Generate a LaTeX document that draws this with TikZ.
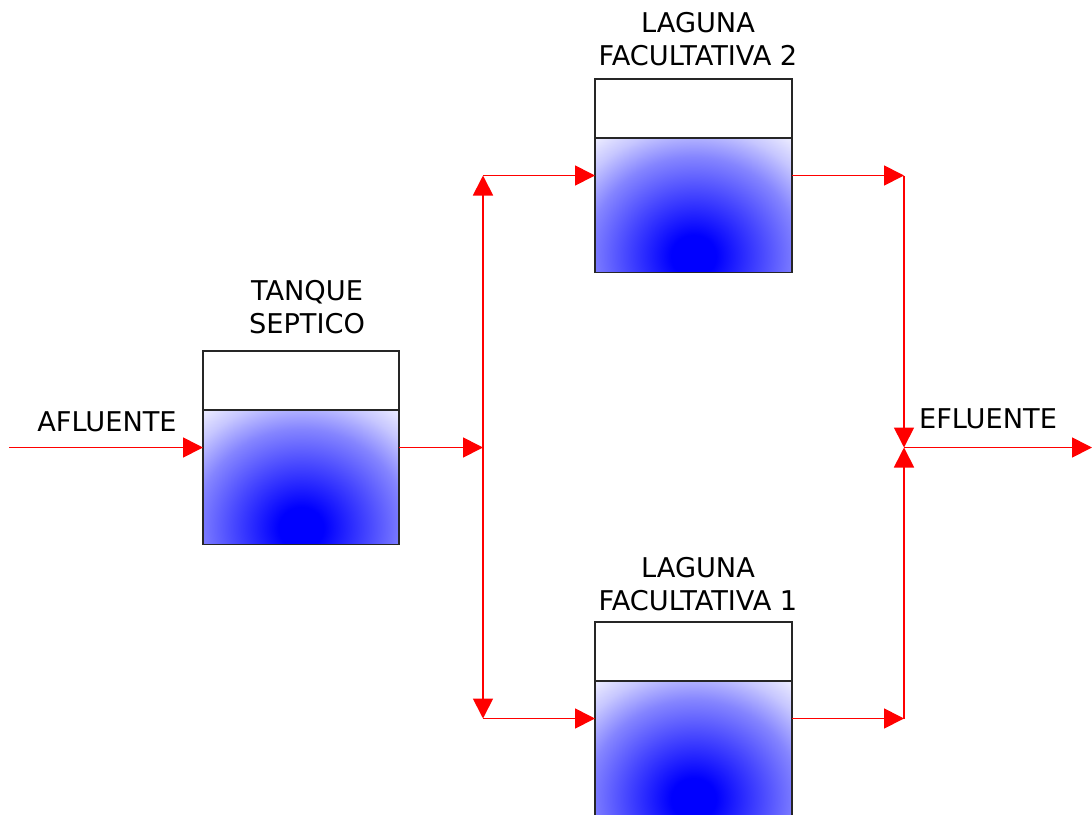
\documentclass[tikz,border=0pt]{standalone}
\usepackage{fontspec}
\setmainfont{DejaVu Sans}
\usetikzlibrary{arrows.meta,calc}
\pgfdeclareradialshading{tankshade}{\pgfpoint{0bp}{0bp}}{%
  color(0bp)=(blue); color(3bp)=(blue); color(9bp)=(white!28!blue);
  color(14bp)=(white!52!blue); color(18bp)=(white!78!blue);
  color(22bp)=(white!97!blue); color(25bp)=(white); color(50bp)=(white)}
\begin{document}
\begin{tikzpicture}[x=0.75pt,y=-0.75pt,
  tank/.style={draw=black!85, line width=1pt, minimum width=147pt, minimum height=145pt,
    inner sep=0pt, outer sep=0pt,
    path picture={
      \shade[shading=tankshade]
        (path picture bounding box.south) ellipse [x radius=141pt, y radius=121pt];
      \fill[white] (path picture bounding box.north west) rectangle
        ($(path picture bounding box.north east)+(0,59)$);
      \draw[black!85, line width=1pt] ($(path picture bounding box.north west)+(0,59)$) --
        ($(path picture bounding box.north east)+(0,59)$);
    }},
  flow/.style={draw=red, line width=1.3pt, -{Triangle[length=15pt,width=15pt]}},
  lbl/.style={font=\fontsize{20.4}{24.75}\selectfont, align=center, anchor=base, inner sep=0pt}
]
\useasboundingbox[fill=white] (0,0) rectangle (1092,814);

% tanks
\node[tank] (sep) at (301,447.5) {};
\node[tank, minimum width=147.75pt] (lag2) at (693.5,175.5) {};
\node[tank, minimum width=147.75pt] (lag1) at (693.5,718.5) {};

% labels (base = baseline of last line)
\node[lbl] (tsep) at (307,333) {TANQUE\\SEPTICO};
\node[lbl] (tlag2) at (698,65) {LAGUNA\\FACULTATIVA 2};
\node[lbl] (tlag1) at (698,610) {LAGUNA\\FACULTATIVA 1};
\node[lbl] (tafl) at (107,431) {AFLUENTE};
\node[lbl] (tefl) at (988,428) {EFLUENTE};

% coordinates
\coordinate (in) at (9,447.5);
\coordinate (j1) at (483,447.5);
\coordinate (tc) at (483,175.5);
\coordinate (bc) at (483,718.5);
\coordinate (rt) at (904,175.5);
\coordinate (rb) at (904,718.5);
\coordinate (m) at (904,447.5);
\coordinate (out) at (1092,447.5);

% connectors
\draw[flow] (in) -- (sep.west);
\draw[flow] (sep.east) -- (j1);
\draw[flow] (j1) -- (tc);
\draw[flow] (j1) -- (bc);
\draw[flow] (tc) -- (lag2.west);
\draw[flow] (bc) -- (lag1.west);
\draw[flow] (lag2.east) -- (rt);
\draw[flow] (lag1.east) -- (rb);
\draw[flow] (rt) -- (m);
\draw[flow] (rb) -- (m);
\draw[flow] (m) -- (out);
\end{tikzpicture}
\end{document}
